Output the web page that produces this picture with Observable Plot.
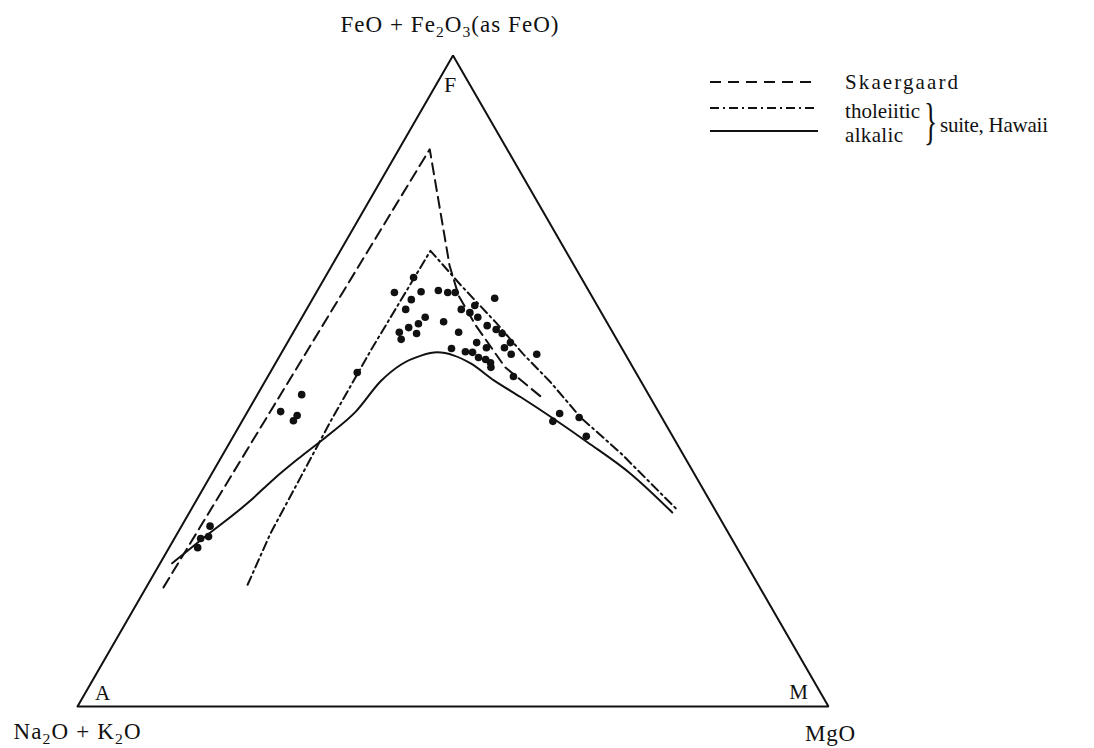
<!DOCTYPE html>
<html><head><meta charset="utf-8">
<script src="https://cdn.jsdelivr.net/npm/d3@7"></script>
<script src="https://cdn.jsdelivr.net/npm/@observablehq/plot@0.6"></script>
<style>
body{margin:0;background:#fff;}
#wrap{position:relative;width:1094px;height:748px;}
svg text{font-family:"Liberation Serif","DejaVu Serif",serif;}
</style></head><body><div id="wrap"></div>
<script>
// Ternary values [A = Na2O+K2O, F = FeO+Fe2O3, M = MgO], percent
const corners = [[100, 0, 0], [0, 100, 0], [0, 0, 100]];
const cornerLetters = ["A", "F", "M"];

const skaergaard = [
  [79.4, 18.3, 2.3], [10.3, 85.6, 4.1], [16.6, 67.7, 15.7], [17.7, 63.1, 19.2],
  [17.7, 58.5, 23.8], [17.0, 52.1, 30.9], [14.5, 47.6, 37.9]
];
const tholeiitic = [
  [68.0, 18.7, 13.3], [61.0, 26.6, 12.4], [52.7, 35.2, 12.1], [44.3, 43.9, 11.8],
  [33.6, 54.7, 11.7], [18.0, 70.0, 12.0], [16.6, 64.7, 18.7], [14.8, 59.0, 26.2],
  [13.6, 54.2, 32.2], [12.1, 49.8, 38.1], [10.8, 44.4, 44.8], [8.2, 38.9, 52.9],
  [5.0, 30.1, 64.9]
];
const alkalic = [
  [76.4, 22.0, 1.6], [70.9, 25.5, 3.6], [61.2, 31.6, 7.2], [56.3, 35.0, 8.7],
  [51.2, 38.3, 10.5], [45.9, 41.6, 12.5], [40.3, 45.3, 14.4], [34.6, 50.0, 15.4],
  [30.7, 52.5, 16.8], [27.3, 53.9, 18.8], [24.9, 54.4, 20.7], [22.9, 53.9, 23.2],
  [21.3, 52.7, 26.0], [19.5, 50.1, 30.4], [17.2, 47.5, 35.3], [14.5, 44.2, 41.3],
  [11.8, 40.6, 47.6], [8.5, 35.8, 55.7], [5.9, 29.8, 64.3]
];
const samples = [
  [68.5, 27.7, 3.8], [70.7, 25.8, 3.5], [69.5, 26.1, 4.4], [71.8, 24.4, 3.8],
  [46.2, 47.9, 5.9], [50.3, 45.3, 4.4], [48.4, 44.7, 6.9], [49.3, 43.9, 6.8],
  [37.1, 51.3, 11.6], [22.3, 65.9, 11.8], [26.0, 63.6, 10.4], [22.4, 63.7, 13.9],
  [24.3, 62.5, 13.2], [20.0, 63.9, 16.1], [18.9, 63.6, 17.5], [17.9, 63.6, 18.5],
  [13.1, 62.7, 24.2], [25.8, 61.0, 13.2], [18.4, 61.0, 20.6], [16.3, 61.6, 22.1],
  [17.5, 60.5, 22.0], [16.8, 59.8, 23.4], [23.8, 59.8, 16.4], [25.2, 58.8, 16.0],
  [21.7, 59.1, 19.2], [28.4, 57.5, 14.1], [26.8, 58.2, 15.0], [26.2, 57.3, 16.5],
  [28.7, 56.4, 14.9], [20.5, 57.5, 22.0], [16.2, 58.5, 25.3], [15.3, 57.9, 26.8],
  [14.8, 57.3, 27.9], [18.9, 55.9, 25.2], [14.4, 55.9, 29.7], [18.0, 55.1, 26.9],
  [15.6, 55.1, 29.3], [15.2, 54.1, 30.7], [22.7, 55.0, 22.3], [21.1, 54.5, 24.4],
  [20.2, 54.4, 25.4], [19.8, 53.6, 26.6], [19.0, 53.3, 27.7], [18.6, 52.8, 28.6],
  [18.9, 52.1, 29.0], [11.8, 54.1, 34.1], [16.6, 50.7, 32.7], [13.3, 45.0, 41.7],
  [14.8, 43.8, 41.4], [11.0, 44.4, 44.6], [11.5, 41.5, 47.0]
];

const legendNames = ["Skaergaard", "tholeiitic", "alkalic"];
const legendGroup = "suite, Hawaii";

const H = Math.sqrt(3) / 2;
const tern = ([a, f, m]) => ({x: (m + f / 2) / 100, y: (f / 100) * H});

const ink = "#111";
const cornerPts = corners.map((c, i) => ({...tern(c), label: cornerLetters[i]}));
const letterOffset = {A: [25, -13, 21], F: [-3, 29, 22], M: [-30, -14, 21]};

const plot = Plot.plot({
  width: 1094, height: 748,
  marginLeft: 77, marginRight: 266, marginTop: 55, marginBottom: 42,
  x: {domain: [0, 1], axis: null},
  y: {domain: [0, H], axis: null},
  marks: [
    Plot.line([...corners, corners[0]].map(tern), {x: "x", y: "y", stroke: ink, strokeWidth: 2, strokeLinejoin: "miter"}),
    Plot.line(skaergaard.map(tern), {x: "x", y: "y", stroke: ink, strokeWidth: 2, strokeDasharray: "11,6"}),
    Plot.line(tholeiitic.map(tern), {x: "x", y: "y", stroke: ink, strokeWidth: 2, strokeDasharray: "9,4,2,4"}),
    Plot.line(alkalic.map(tern), {x: "x", y: "y", stroke: ink, strokeWidth: 2, curve: "monotone-x"}),
    Plot.dot(samples.map(tern), {x: "x", y: "y", r: 3.8, fill: ink, stroke: "none"}),
    ...cornerPts.map(p => Plot.text([p], {
      x: "x", y: "y", text: "label", fill: ink,
      fontSize: letterOffset[p.label][2], dx: letterOffset[p.label][0], dy: letterOffset[p.label][1]
    }))
  ]
});
document.getElementById("wrap").appendChild(plot);

const svg = d3.select(plot);
const sx = plot.scale("x"), sy = plot.scale("y");
const pos = (c) => { const t = tern(c); return [sx.apply(t.x), sy.apply(t.y)]; };

function rich(x, y, parts, size, anchor, len) {
  const t = svg.append("text").attr("x", x).attr("y", y)
    .attr("font-size", size).attr("fill", ink).attr("text-anchor", anchor || "middle");
  if (len) t.attr("textLength", len).attr("lengthAdjust", "spacing");
  let shifted = false;
  for (const p of parts) {
    const sub = p.startsWith("_");
    const s = sub ? p.slice(1) : p;
    const ts = t.append("tspan").text(s);
    if (sub) {
      ts.attr("font-size", size * 0.68);
      if (!shifted) { ts.attr("dy", size * 0.2); shifted = true; }
    } else if (shifted) { ts.attr("dy", -size * 0.2); shifted = false; }
  }
  return t;
}

const [Ax, Ay] = pos(corners[0]);
const [Fx, Fy] = pos(corners[1]);
const [Mx, My] = pos(corners[2]);
rich(Fx - 3, Fy - 23, ["FeO + Fe", "_2", "O", "_3", "(as FeO)"], 23, "middle", 218);
rich(Ax, Ay + 33, ["Na", "_2", "O + K", "_2", "O"], 23, "middle", 127);
rich(Mx + 2, My + 35, ["MgO"], 23, "middle", 50);

// legend (top right)
const lx0 = 710, lx1 = 818, tx = 845;
const rows = [
  {y: 82, ty: 89, dash: "11,7", name: legendNames[0], len: 113},
  {y: 108, ty: 118, dash: "9,4,2,4", name: legendNames[1], len: 75},
  {y: 131, ty: 142, dash: null, name: legendNames[2], len: 58}
];
for (const r of rows) {
  svg.append("line").attr("x1", lx0).attr("x2", lx1).attr("y1", r.y).attr("y2", r.y)
    .attr("stroke", ink).attr("stroke-width", 2).attr("stroke-dasharray", r.dash);
  svg.append("text").attr("x", tx).attr("y", r.ty).attr("font-size", 21).attr("fill", ink)
    .attr("text-anchor", "start").attr("textLength", r.len).attr("lengthAdjust", "spacing").text(r.name);
}
svg.append("text").attr("x", 924).attr("y", 138).attr("font-size", 50).attr("fill", ink)
  .attr("text-anchor", "start")
  .attr("transform", "translate(924,0) scale(0.55,1) translate(-924,0)").text("}");
svg.append("text").attr("x", 940).attr("y", 132).attr("font-size", 21).attr("fill", ink)
  .attr("text-anchor", "start").attr("textLength", 108).attr("lengthAdjust", "spacing").text(legendGroup);
</script>
</body></html>
